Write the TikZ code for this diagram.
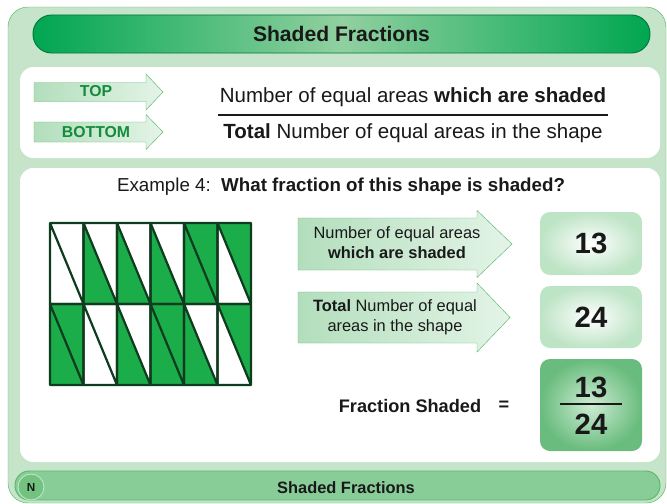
\documentclass[tikz,border=0pt]{standalone}
\usepackage{fontspec}
\setmainfont{Liberation Sans}
\usetikzlibrary{positioning,shapes.misc}
\definecolor{leaf}{RGB}{0,166,81}
\definecolor{leaflight}{RGB}{145,208,160}
\definecolor{leafdark}{RGB}{0,120,60}
\definecolor{framebg}{RGB}{197,228,202}
\definecolor{frameline}{RGB}{90,185,105}
\definecolor{cellgreen}{RGB}{28,173,75}
\definecolor{gridink}{RGB}{15,60,30}
\definecolor{arrowA}{RGB}{178,222,188}
\definecolor{arrowB}{RGB}{132,200,148}
\definecolor{arrowC}{RGB}{228,244,231}
\definecolor{arrowline}{RGB}{95,185,115}
\definecolor{mint}{RGB}{190,228,198}
\definecolor{fracout}{RGB}{105,188,125}
\definecolor{fracin}{RGB}{205,236,212}
\definecolor{barfill}{RGB}{136,204,152}
\definecolor{tagtext}{RGB}{20,140,60}
\definecolor{ink}{RGB}{25,25,25}
\tikzset{
  panel/.style={fill=white,rounded corners=0.4cm},
  titlebar/.style={draw=leafdark,thick,rounded corners=0.56cm,
    left color=leaf,right color=leaf,middle color=leaflight,
    minimum width=18.51cm,minimum height=1.14cm,
    font=\fontsize{18}{22}\selectfont\bfseries,text=ink},
  footbar/.style={draw=frameline,thick,fill=barfill,rounded corners=0.43cm,
    minimum width=19.35cm,minimum height=0.87cm},
  tag/.style={font=\fontsize{13.5}{16}\selectfont\bfseries,text=tagtext},
  line/.style={font=\fontsize{17.5}{21}\selectfont,text=ink},
  say/.style={font=\fontsize{14}{17}\selectfont,text=ink,align=center},
  numbox/.style={rounded corners=0.3cm,inner color=white,outer color=mint,
    minimum width=3.06cm,minimum height=1.89cm,
    font=\fontsize{25}{30}\selectfont\bfseries,text=ink},
  fracbox/.style={rounded corners=0.3cm,inner color=fracin,outer color=fracout,
    minimum width=3.06cm,minimum height=2.76cm},
  fracnum/.style={font=\fontsize{25}{30}\selectfont\bfseries,text=ink,inner sep=0pt},
  cellline/.style={draw=gridink,line width=1.9pt,line join=round},
  % fat arrow: length / half body / head overhang / head length
  pics/fatarrow/.style args={#1/#2/#3/#4}{code={
    \shade[left color=arrowA,middle color=arrowB,right color=arrowC,draw=arrowline]
      (0,-#2) -- (#1-#4,-#2) -- (#1-#4,-#2-#3) -- (#1,0)
      -- (#1-#4,#2+#3) -- (#1-#4,#2) -- (0,#2) -- cycle;
  }},
}
\begin{document}
\begin{tikzpicture}[x=0.03cm,y=-0.03cm]
  \useasboundingbox (0,0) rectangle (667,504);
  % frame and panels
  \draw[fill=framebg,draw=frameline,rounded corners=0.6cm] (8,7) rectangle (666,503);
  \node[titlebar] (title) at (341.5,34) {Shaded Fractions};
  \fill[panel] (20,67) rectangle (660,158);
  \fill[panel] (20,168) rectangle (660,462);
  \node[footbar] (foot) at (337.5,485.5) {};
  \node[circle,fill=frameline!85!white,draw=mint,thick,minimum size=0.78cm,
    font=\fontsize{10}{12}\selectfont\bfseries,text=ink] (nbadge) at (31,487) {N};
  \node[font=\fontsize{14}{17}\selectfont\bfseries,text=ink] (foottext) at (346,488) {Shaded Fractions};

  % top / bottom key
  \pic at (34,92) {fatarrow=129/9.5/8.5/17};
  \pic at (34,132) {fatarrow=129/10/7.5/17};
  \node[tag] (toptag) at (96,91) {TOP};
  \node[tag] (bottag) at (96,132) {BOTTOM};
  \node[line] (topline) at (413,97) {Number of equal areas \textbf{which are shaded}};
  \node[line] (botline) at (413,133) {\textbf{Total} Number of equal areas in the shape};
  \draw[ink,line width=1.5pt] (218,115) -- (608,115);

  % example
  \node[font=\fontsize{16}{19}\selectfont,text=ink] (extitle) at (341,187)
    {Example 4:\ \ \textbf{What fraction of this shape is shaded?}};

  % shaded shape
  \foreach \c/\r in {1/0,2/0,3/0,4/0,0/1,2/1,3/1,4/1}
    \fill[cellgreen] ({50+33.5*\c},{223+81*\r}) -- ({50+33.5*\c},{304+81*\r})
      -- ({83.5+33.5*\c},{304+81*\r}) -- cycle;
  \foreach \c/\r in {4/0,5/0,0/1,3/1,5/1}
    \fill[cellgreen] ({50+33.5*\c},{223+81*\r}) -- ({83.5+33.5*\c},{223+81*\r})
      -- ({83.5+33.5*\c},{304+81*\r}) -- cycle;
  \foreach \c in {0,...,5}
    \foreach \r in {0,1}
      \draw[cellline] ({50+33.5*\c},{223+81*\r}) rectangle ({83.5+33.5*\c},{304+81*\r})
        ({50+33.5*\c},{223+81*\r}) -- ({83.5+33.5*\c},{304+81*\r});

  % answer
  \pic at (298,244) {fatarrow=214/26/7.5/35};
  \pic at (298,317.5) {fatarrow=212/25.5/9/33};
  \node[say] (shadedtxt) at (397,243) {Number of equal areas\\\textbf{which are shaded}};
  \node[say] (totaltxt) at (395,317.5) {\textbf{Total} Number of equal\\areas in the shape};
  \node[numbox] (ansbox) at (591,243.5) {13};
  \node[numbox,minimum height=1.86cm] (totbox) at (591,317) {24};
  \node[fracbox] (fbox) at (591,405) {};
  \node[fracnum] (fnum) at (591,387) {13};
  \node[fracnum] (fden) at (591,424) {24};
  \draw[ink,line width=2pt] ([xshift=-0.93cm,yshift=0.03cm]fbox.center) -- ([xshift=0.93cm,yshift=0.03cm]fbox.center);
  \node[font=\fontsize{15.5}{18}\selectfont\bfseries,text=ink] (fraclbl) at (410,406) {Fraction Shaded};
  \node[font=\fontsize{15.5}{18}\selectfont\bfseries,text=ink] (eqsign) at (504,406) {=};
\end{tikzpicture}
\end{document}
